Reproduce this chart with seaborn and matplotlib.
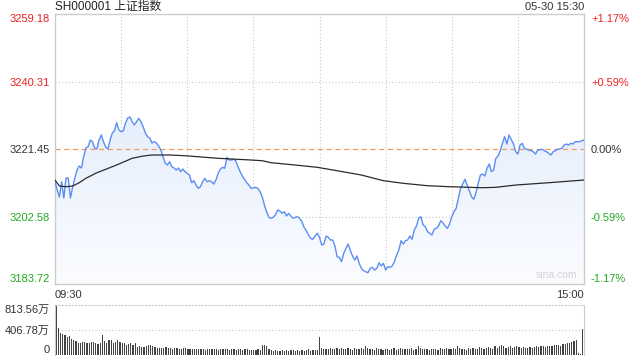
import matplotlib
matplotlib.use("Agg")
import matplotlib.pyplot as plt
from matplotlib.colors import LinearSegmentedColormap
import seaborn as sns
import numpy as np

# values (SH000001, 05-30)
prev_close = 3221.45
price_ticks = [3183.72, 3202.58, 3221.45, 3240.31, 3259.18]
price_tick_labels = ["3183.72", "3202.58", "3221.45", "3240.31", "3259.18"]
pct_labels = ["-1.17%", "-0.59%", "0.00%", "+0.59%", "+1.17%"]
tick_colors = ["#22aa22", "#22aa22", "#333333", "#ee2222", "#ee2222"]
vol_ticks = [0, 406.78, 813.56]
vol_tick_labels = ["0", "406.78万", "813.56万"]
time_labels = ["09:30", "15:00"]

# minute index (0 = 09:30, 120 = 11:30/13:00, 240 = 15:00) and price
price_min = [
    0, 1, 2, 3, 4, 5, 6, 7, 8, 9, 10, 11, 12, 13, 14, 15, 16, 17, 18, 19,
    20, 21, 22, 23, 24, 25, 26, 27, 28, 29, 30, 31, 32, 33, 34, 35, 36, 37, 38, 39,
    40, 41, 42, 43, 44, 45, 46, 47, 48, 49, 50, 51, 52, 53, 54, 55, 56, 57, 58, 59,
    61, 62, 63, 64, 65, 66, 67, 68, 69, 70, 71, 72, 73, 74, 75, 76, 77, 78, 79, 80,
    81, 82, 83, 84, 85, 86, 87, 88, 89, 91, 92, 93, 94, 95, 96, 97, 98, 99, 100, 101,
    102, 103, 104, 105, 106, 107, 108, 109, 110, 111, 112, 113, 114, 115, 116, 117, 118, 119, 120, 121,
    122, 123, 124, 125, 126, 127, 128, 129, 130, 131, 132, 133, 134, 135, 136, 137, 138, 139, 140, 142,
    143, 144, 145, 146, 147, 148, 149, 150, 151, 152, 153, 154, 155, 156, 157, 158, 159, 160, 161, 162,
    163, 164, 165, 166, 167, 168, 169, 170, 171, 172, 173, 174, 175, 176, 177, 178, 179, 180, 181, 182,
    183, 184, 186, 187, 188, 189, 190, 191, 192, 193, 194, 195, 196, 197, 198, 199, 200, 201, 202, 203,
    204, 205, 206, 207, 208, 209, 210, 211, 212, 213, 214, 215, 216, 217, 218, 219, 221, 222, 223, 224,
    225, 226, 227, 228, 230, 231, 232, 233, 234, 235, 236, 238, 239, 240,
]
price = [
    3212.31, 3209.99, 3208.03, 3212.31, 3207.75, 3213.34, 3213.34, 3207.75, 3210.83, 3213.34,
    3215.58, 3216.70, 3216.14, 3219.29, 3221.73, 3222.09, 3223.96, 3223.49, 3221.73, 3221.45,
    3223.96, 3225.36, 3223.49, 3222.01, 3221.45, 3223.96, 3225.92, 3226.56, 3228.80, 3226.76,
    3226.28, 3226.56, 3228.71, 3230.11, 3230.39, 3229.08, 3228.15, 3229.08, 3230.03, 3229.08,
    3227.68, 3225.92, 3224.88, 3224.52, 3223.12, 3223.49, 3223.12, 3222.28, 3221.17, 3219.29,
    3217.53, 3216.97, 3217.90, 3216.50, 3216.14, 3215.58, 3216.14, 3215.10, 3215.86, 3215.10,
    3214.18, 3212.03, 3212.59, 3211.38, 3210.46, 3210.91, 3212.31, 3213.26, 3212.31, 3212.59,
    3212.31, 3211.66, 3212.78, 3214.65, 3215.77, 3216.33, 3216.05, 3219.13, 3218.37, 3218.37,
    3218.57, 3218.18, 3216.50, 3215.10, 3213.90, 3212.98, 3212.03, 3211.38, 3210.46, 3210.74,
    3210.46, 3209.51, 3208.11, 3205.80, 3203.92, 3202.36, 3202.08, 3202.36, 3203.00, 3204.40,
    3204.12, 3203.48, 3203.92, 3202.72, 3203.48, 3202.72, 3202.08, 3202.36, 3202.53, 3202.08,
    3201.13, 3199.56, 3198.61, 3197.41, 3196.49, 3196.21, 3197.13, 3197.89, 3196.77, 3194.62,
    3194.89, 3197.13, 3196.77, 3196.01, 3196.01, 3194.34, 3191.35, 3191.18, 3189.95, 3192.30,
    3193.69, 3194.89, 3193.02, 3191.54, 3190.42, 3191.54, 3189.50, 3188.10, 3187.43, 3186.87,
    3188.10, 3188.38, 3187.63, 3188.10, 3189.67, 3188.75, 3189.50, 3187.63, 3188.55, 3188.38,
    3188.75, 3189.95, 3191.82, 3193.22, 3195.82, 3194.89, 3195.82, 3196.01, 3197.13, 3196.21,
    3198.81, 3199.93, 3202.08, 3202.53, 3200.21, 3199.73, 3198.33, 3197.89, 3197.41, 3199.00,
    3199.28, 3199.93, 3201.41, 3200.85, 3199.93, 3199.28, 3200.48, 3202.53, 3203.92, 3204.87,
    3207.67, 3210.46, 3212.98, 3211.38, 3209.79, 3208.11, 3207.39, 3209.23, 3211.86, 3214.18,
    3214.46, 3213.90, 3216.05, 3217.25, 3215.10, 3215.58, 3218.85, 3219.49, 3220.97, 3223.04,
    3224.88, 3222.84, 3225.36, 3224.16, 3222.84, 3220.69, 3220.05, 3222.56, 3223.04, 3221.64,
    3221.36, 3221.17, 3220.97, 3220.69, 3220.05, 3221.17, 3221.36, 3220.97, 3220.69, 3220.24,
    3219.77, 3220.69, 3220.97, 3221.36, 3221.64, 3222.56, 3222.84, 3222.56, 3223.04, 3222.84,
    3223.49, 3223.49, 3223.77, 3223.96,
]

# average price line
avg_min = [0, 2, 5, 8, 11, 14, 19, 23, 29, 35, 40, 44, 52, 59, 74, 89, 94, 98, 109,
           119, 128, 139, 149, 158, 169, 179, 194, 200, 209, 224, 240]
avg_price = [3212.78, 3211.10, 3210.91, 3211.10, 3212.03, 3213.26, 3214.82, 3215.77,
             3217.25, 3218.85, 3219.49, 3219.77, 3219.77, 3219.57, 3218.85, 3218.37,
             3218.18, 3217.62, 3216.97, 3216.33, 3215.38, 3214.18, 3212.59, 3211.86,
             3211.19, 3210.91, 3210.63, 3210.74, 3211.38, 3212.03, 3212.78]

# volume per minute (万手)
volume = [
    813.56, 434, 353, 336, 325, 300, 309, 260, 250, 235,
    195, 200, 205, 215, 190, 200, 205, 215, 190, 185,
    195, 325, 225, 190, 245, 245, 190, 205, 245, 205,
    200, 195, 165, 175, 190, 165, 190, 135, 140, 125,
    135, 150, 165, 155, 140, 125, 118, 112, 120, 108,
    125, 110, 120, 100, 108, 115, 100, 95, 108, 112,
    100, 95, 105, 100, 98, 92, 100, 95, 88, 100,
    105, 95, 100, 92, 85, 98, 100, 90, 92, 85,
    95, 100, 88, 92, 98, 85, 90, 95, 88, 82,
    80, 88, 92, 85, 165, 168, 150, 95, 80, 70,
    75, 72, 70, 75, 72, 78, 70, 75, 78, 72,
    80, 72, 88, 70, 75, 95, 72, 88, 80, 85,
    300, 110, 95, 100, 90, 115, 100, 105, 120, 95,
    110, 90, 100, 120, 95, 85, 110, 105, 90, 115,
    100, 150, 120, 95, 100, 85, 110, 95, 100, 85,
    90, 100, 80, 95, 110, 85, 100, 120, 95, 105,
    100, 90, 110, 85, 95, 140, 110, 90, 100, 95,
    80, 95, 100, 90, 85, 110, 95, 100, 115, 90,
    95, 110, 100, 150, 120, 95, 100, 85, 115, 100,
    110, 95, 100, 125, 115, 90, 120, 135, 110, 95,
    140, 110, 150, 160, 145, 120, 135, 150, 120, 130,
    140, 125, 110, 135, 120, 115, 130, 120, 125, 140,
    135, 150, 140, 130, 145, 150, 140, 155, 160, 165,
    150, 175, 180, 190, 200, 215, 230, 245, 25, 20,
    430,
]
vol_min = list(range(len(volume)))

sns.set_style("white")
plt.rcParams["font.family"] = ["Liberation Sans", "Noto Sans CJK SC", "DejaVu Sans"]

fig = plt.figure(figsize=(6.4, 3.6), dpi=100)
ax = fig.add_axes([55 / 640, 1 - 284 / 360, 529 / 640, 270 / 360])
axv = fig.add_axes([55 / 640, 1 - 355 / 360, 529 / 640, 50 / 360])

grid_kw = dict(color="#c8c8c8", lw=0.8, ls=(0, (1, 2)), zorder=0.5)

# price panel: gradient fill under the line
poly = ax.fill_between(price_min, price, price_ticks[0], facecolor="none", edgecolor="none")
cmap = LinearSegmentedColormap.from_list("fade", ["#fbfcff", "#d9e6fb"])
grad = np.linspace(0, 1, 256).reshape(-1, 1)
im = ax.imshow(grad, extent=[0, 240, price_ticks[0], price_ticks[-1]], origin="lower",
               aspect="auto", cmap=cmap, zorder=1)
im.set_clip_path(poly.get_paths()[0], transform=ax.transData)

for m in range(30, 240, 30):
    ax.axvline(m, **grid_kw)
for p in (price_ticks[1], price_ticks[3]):
    ax.axhline(p, **grid_kw)
ax.axhline(prev_close, color="#f09a5e", lw=0.9, ls=(0, (4, 3)), zorder=1.5)

sns.lineplot(x=price_min, y=price, ax=ax, color="#5b8ef2", lw=1.0, zorder=3)
sns.lineplot(x=avg_min, y=avg_price, ax=ax, color="#2b2b2b", lw=0.9, zorder=3)

ax.set_xlim(0, 240)
ax.set_ylim(price_ticks[0], price_ticks[-1])
ax.set_xlabel("")
ax.set_ylabel("")
ax.set_yticks(price_ticks)
ax.set_yticklabels(price_tick_labels)
ax.set_xticks([0, 240])
ax.set_xticklabels(time_labels)
ax.tick_params(axis="both", length=0, labelsize=8, colors="#333333")
ax.tick_params(axis="y", pad=3.5)
ax.tick_params(axis="x", pad=4)
for lab, c in zip(ax.get_yticklabels(), tick_colors):
    lab.set_color(c)
ylabs = ax.get_yticklabels()
ylabs[0].set_va("bottom")
ylabs[-1].set_va("top")
xlabs = ax.get_xticklabels()
xlabs[0].set_ha("left")
xlabs[-1].set_ha("right")
for s in ax.spines.values():
    s.set_color("#cccccc")
    s.set_linewidth(1.0)

ax2 = ax.twinx()
ax2.set_ylim(price_ticks[0], price_ticks[-1])
ax2.set_yticks(price_ticks)
ax2.set_yticklabels(pct_labels)
ax2.tick_params(axis="y", length=0, labelsize=8, pad=5)
for lab, c in zip(ax2.get_yticklabels(), tick_colors):
    lab.set_color(c)
plabs = ax2.get_yticklabels()
plabs[0].set_va("bottom")
plabs[-1].set_va("top")
for s in ax2.spines.values():
    s.set_visible(False)

ax.text(0.988, 0.015, "sina.com", transform=ax.transAxes, ha="right", va="bottom",
        fontsize=7.5, color="#d3d3d3")

# volume panel
sns.barplot(x=vol_min, y=volume, native_scale=True, color="#444444", saturation=1,
            width=0.55, errorbar=None, linewidth=0, ax=axv)
axv.axhline(vol_ticks[1], **grid_kw)
axv.set_xlim(-0.6, 240.6)
axv.set_ylim(0, vol_ticks[-1])
axv.set_xticks([])
axv.set_xlabel("")
axv.set_ylabel("")
axv.set_yticks(vol_ticks)
axv.set_yticklabels(vol_tick_labels)
axv.tick_params(axis="y", length=0, labelsize=8, colors="#333333", pad=3.5)
vlabs = axv.get_yticklabels()
vlabs[0].set_va("bottom")
vlabs[-1].set_va("top")
for side in ("left", "right"):
    axv.spines[side].set_color("#cccccc")
axv.spines["top"].set_color("#c8c8c8")
axv.spines["top"].set_linestyle((0, (1, 2)))
axv.spines["bottom"].set_visible(False)

fig.text(55 / 640, 1 - 7 / 360, "SH000001 上证指数", ha="left", va="center", fontsize=8.5,
         color="#222222")
fig.text(584 / 640, 1 - 7 / 360, "05-30 15:30", ha="right", va="center", fontsize=8,
         color="#333333")

fig.savefig("out.png", dpi=100)
